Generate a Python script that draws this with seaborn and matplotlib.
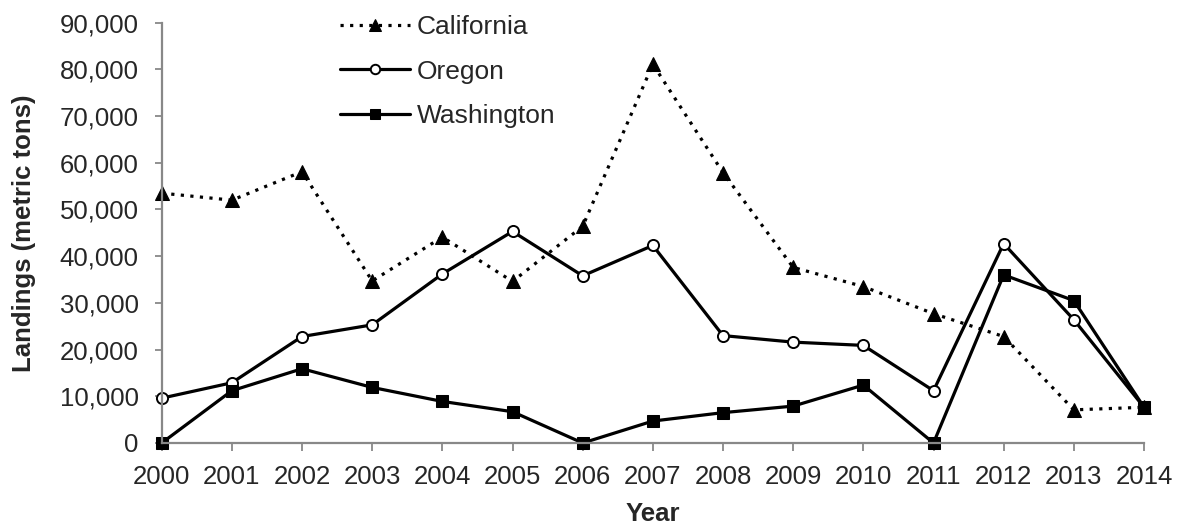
import matplotlib
matplotlib.use("Agg")
import matplotlib.pyplot as plt
import seaborn as sns
import pandas as pd
from matplotlib.ticker import FuncFormatter

years = list(range(2000, 2015))
california = [53500, 52000, 58100, 34700, 44100, 34600, 46400, 81100, 57900, 37600, 33500, 27700, 22800, 7100, 7650]
oregon = [9600, 12900, 22800, 25300, 36200, 45300, 35800, 42300, 23000, 21600, 20900, 11200, 42700, 26400, 7650]
washington = [0, 11200, 15900, 11900, 8900, 6700, 0, 4700, 6500, 7900, 12400, 0, 36000, 30500, 7650]
yticks = list(range(0, 90001, 10000))

sns.set_theme(style="white")
plt.rcParams['font.family'] = ['Liberation Sans', 'DejaVu Sans']

W, H = 1178, 532
fig = plt.figure(figsize=(W/100, H/100), dpi=100)
x0, x1, ytop, ybot = 161.7, 1144, 22.7, 443
ax = fig.add_axes([x0/W, 1 - ybot/H, (x1-x0)/W, (ybot-ytop)/H])

df = pd.DataFrame({"Year": years, "California": california, "Oregon": oregon, "Washington": washington})

LW = 2.3
sns.lineplot(data=df, x="Year", y="California", ax=ax, color="black", lw=LW, linestyle=(0, (1, 2)),
             marker="^", markersize=10, markeredgecolor="black", markerfacecolor="black", label="California")
sns.lineplot(data=df, x="Year", y="Oregon", ax=ax, color="black", lw=LW,
             marker="o", markersize=8, markeredgecolor="black", markerfacecolor="white", markeredgewidth=1.4, label="Oregon")
sns.lineplot(data=df, x="Year", y="Washington", ax=ax, color="black", lw=LW,
             marker="s", markersize=8.5, markeredgecolor="black", markerfacecolor="black", label="Washington")

FS = 18.5
ax.set_xlim(2000, 2014)
ax.set_ylim(0, 90000)
ax.set_xticks(years)
ax.set_xticklabels([str(y) for y in years])
ax.set_yticks(yticks)
ax.yaxis.set_major_formatter(FuncFormatter(lambda v, p: f"{int(v):,}"))
ax.tick_params(axis='y', labelsize=FS, length=5, width=1.3, color='#888888', direction='out', left=True, pad=11.5)
ax.tick_params(axis='x', labelsize=FS, length=6, width=1.3, color='#888888', direction='out', bottom=True, pad=10)
for s in ['top', 'right']:
    ax.spines[s].set_visible(False)
for s in ['left', 'bottom']:
    ax.spines[s].set_color('#888888')
    ax.spines[s].set_linewidth(1.6)
ax.set_xlabel("Year", fontsize=FS, fontweight='bold', labelpad=9)
ax.set_ylabel("Landings (metric tons)", fontsize=FS, fontweight='bold', labelpad=17)
ax.grid(False)
for l in ax.get_lines():
    l.set_clip_on(False)

leg = ax.legend(loc='upper left', bbox_to_anchor=(340/W, 1 - 15/H), bbox_transform=fig.transFigure,
                frameon=False, fontsize=19, handlelength=2.65, labelspacing=0.78, handletextpad=0.25, borderpad=0,
                borderaxespad=0, markerscale=0.85)

fig.savefig("out.png", dpi=100)
